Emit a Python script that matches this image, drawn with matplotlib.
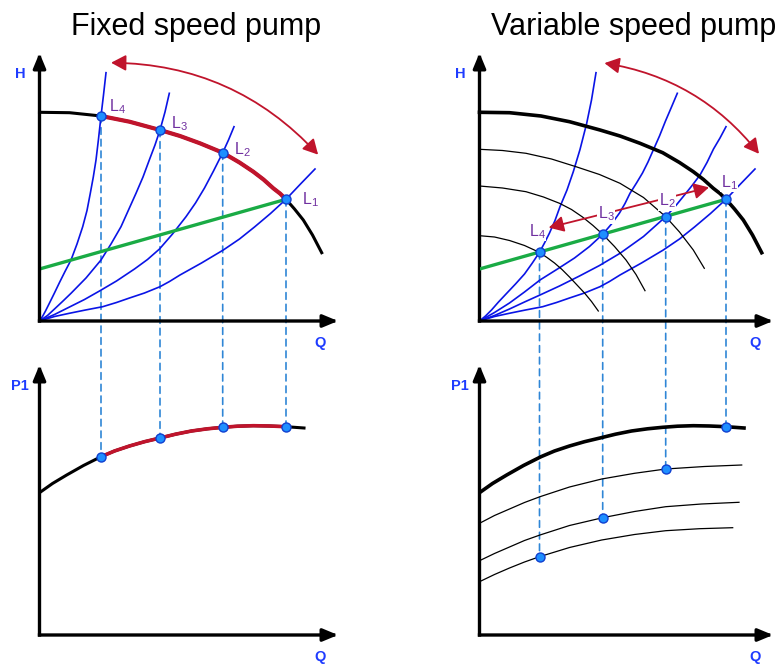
import matplotlib.pyplot as plt
from matplotlib.patches import FancyArrowPatch, ConnectionPatch

plt.rcParams['font.family'] = ['Liberation Sans', 'DejaVu Sans']

# ---- data (arbitrary units: Q flow, H head, P1 power) ----
labels = ['1', '2', '3', '4']

# pump curve at full speed
pump_q = [0, 30, 61.5, 90, 120.5, 140.5, 160.5, 183.2, 200, 213.8, 224, 233.8, 240.5, 246.5,
          255, 263.8, 273, 282.2]
pump_h = [208.7, 208.3, 205, 199.3, 191, 185, 177.7, 168.3, 158.5, 149.3, 141.5, 132.7, 127.5,
          121.7, 112, 101, 86, 68.3]

# power curve at full speed
power_q = [0, 13, 27.2, 44, 61.5, 75, 90, 105, 120.5, 136, 152, 168, 183.2, 198, 213.8, 230,
           246.5, 264.5]
power_p = [142.3, 151.5, 160, 169.5, 178.3, 184, 189, 193.3, 197, 200.8, 204, 206.2, 207.7,
           208.8, 209.3, 209, 208.3, 207]

# control curve (green)
ctrl_q = [0, 246.5]
ctrl_h = [52, 121.7]

# fixed speed: operating points L1..L4
fix_q = [246.5, 183.2, 120.5, 61.5]
fix_h = [121.7, 168.3, 191, 205]
fix_p = [208.3, 207.7, 197, 178.3]

# fixed speed: system curves through L1..L4
fix_sys_q = [
    [0, 15, 29.8, 46, 63.2, 77, 90, 105, 120.5, 130, 140.5, 162, 183.8, 200, 215, 231, 246.5,
     261, 275.5],
    [0, 15, 30, 45, 60, 77, 95, 108, 120, 133, 146.5, 156, 165, 174, 183.2, 189, 194.5],
    [0, 8, 15, 23, 31.5, 46.5, 61.5, 71.5, 81.5, 89, 96.5, 103.5, 109.8, 115.5, 120.5, 125.5,
     129.8],
    [0, 3, 6, 10, 14.8, 20, 25.5, 31.5, 37.5, 43.2, 47.5, 50.8, 53.8, 56.5, 59, 61.5, 64, 66.5],
]
fix_sys_h = [
    [0, 4.5, 7.7, 11, 14.3, 18.5, 23, 28, 34.3, 39.5, 46, 58, 71, 82, 94, 107.5, 121.7, 137,
     152],
    [0, 6.5, 14, 21.5, 30, 40, 52, 61.5, 72, 87, 104.3, 118, 133, 150, 168.3, 181, 194.3],
    [0, 5.5, 12, 19.5, 27.7, 43, 61, 77, 94.3, 111, 127.7, 144, 161, 176, 191, 209, 227.7],
    [0, 4.5, 10, 18, 27.7, 38.5, 49.5, 61, 77, 94.3, 110.5, 127.7, 144, 161, 182, 205, 226,
     248.3],
]

# variable speed: operating points L1..L4 (on the control curve)
var_q = [246.5, 186.2, 123.2, 60]
var_h = [121.7, 104.3, 86.7, 68.7]
var_p = [208.3, 166, 117.3, 78.3]

# variable speed: system curves through L1..L4
var_sys_q = [
    fix_sys_q[0],
    [0, 15, 30, 45, 60.5, 80, 100, 120, 140.5, 164, 186.2, 196, 205, 213, 220.5, 227.5, 234,
     240.5, 246.5],
    [0, 15, 30, 45, 60.5, 78, 95, 110, 123.2, 132, 140, 145.5, 150.5, 157, 163, 168.5, 173.8,
     180, 186, 192, 197.8],
    [0, 6, 12, 19, 27.2, 36, 45, 52.5, 60, 65, 70, 75.5, 80.5, 87.5, 93.8, 100.5, 107.2, 112,
     116.5],
]
var_sys_h = [
    fix_sys_h[0],
    [0, 5.5, 12, 19, 26, 35, 45, 55.5, 67.7, 84.5, 104.3, 115, 126, 136, 146, 158.5, 172, 183,
     194.3],
    [0, 8.5, 18, 29, 41, 52, 63, 74.5, 86.7, 97, 108, 117.5, 127.7, 138, 148, 159, 171, 185, 200,
     214, 227.7],
    [0, 5, 11, 19, 27.7, 37, 47, 57.5, 68.7, 78, 88, 100.5, 114.3, 131, 149.3, 171.5, 197.7, 221,
     248.3],
]

# variable speed: reduced speed pump curves
red_pump_q = [
    [0, 23, 46.5, 72, 96.5, 120, 140.5, 164, 186.2, 200, 213.8, 224.8],
    [0, 23, 46.5, 64, 80, 92, 103, 113.5, 123.2, 135, 146.5, 156.5, 165.5],
    [0, 15, 30, 45, 59.8, 67.5, 75, 82.5, 90, 97.5, 105, 112, 118.8],
]
red_pump_h = [
    [171.7, 170.5, 167.7, 162, 154.3, 146.5, 137.7, 123.5, 104.3, 89, 71, 52.7],
    [135, 133, 129.3, 124, 117.7, 111.5, 104, 95.5, 86.7, 74.5, 61, 46.5, 30.3],
    [85.3, 84, 80.5, 75.5, 68.7, 63.5, 58, 51.5, 44, 36, 28, 19.5, 10],
]

# variable speed: reduced speed power curves
red_power_q = [
    [0, 15, 30, 45, 60.5, 90, 122.2, 155, 186.2, 225, 262.2],
    [0, 15, 30, 45, 60.5, 90, 123.2, 155, 186.2, 222, 259.5],
    [0, 15, 30, 45, 60, 90, 122.2, 155, 186.2, 220, 253.2],
]
red_power_p = [
    [111.7, 119.5, 126, 132.5, 138.3, 148, 156, 161.7, 166, 168.5, 170],
    [74.3, 81.5, 88, 94.5, 100, 109.5, 117.3, 123.5, 128.3, 131, 132.7],
    [53.3, 60.5, 67, 73, 78.3, 87.5, 95, 100.5, 104.3, 106.3, 107.3],
]

# label anchors
fix_lab_q = [262.2, 194.5, 131.5, 69.2]
fix_lab_h = [121.5, 171.5, 197, 214]
var_lab_q = [241.5, 179.5, 118.2, 49.2]
var_lab_h = [138.5, 120, 107, 89.5]

# red arrows
fix_arc_q = [68.8, 280.5]
fix_arc_h = [258.3, 164.3]
var_arc_q = [122.2, 281.2]
var_arc_h = [258.3, 165]
var_line_q = [66.5, 232.2]
var_line_h = [92.7, 134.3]

BLUE = '#0a14e6'
RED = '#c0142c'
GREEN = '#1aab45'
PURPLE = '#7030a0'
LBLUE = '#1f3cff'
DOT_FC = '#1e8fff'
DOT_EC = '#1040d0'
DASH = '#2f86d6'

W, HP = 780, 664
fig = plt.figure(figsize=(7.8, 6.64), dpi=100)


def make_axes(ox, oy, xw, yh, ylab):
    ax = fig.add_axes([ox / W, 1 - oy / HP, xw / W, yh / HP])
    ax.set_xlim(0, xw)
    ax.set_ylim(0, yh)
    ax.axis('off')
    ax.patch.set_visible(False)
    style = '-|>,head_length=0.6,head_width=0.25'
    for tip in [(xw, 0), (0, yh)]:
        ax.annotate('', xy=tip, xytext=(0, 0), annotation_clip=False,
                    arrowprops=dict(arrowstyle=style, lw=2.4, color='k',
                                    shrinkA=0, shrinkB=0, mutation_scale=15,
                                    capstyle='projecting'))
    ax.text(-19.5, yh - 21, ylab, color=LBLUE, fontsize=10.5, fontweight='bold',
            ha='center', va='center', clip_on=False)
    ax.text(xw - 18, -22, 'Q', color=LBLUE, fontsize=10.5, fontweight='bold',
            ha='center', va='center', clip_on=False)
    return ax


ax1 = make_axes(39.5, 321, 298.5, 268, 'H')
ax2 = make_axes(39.5, 635, 298.5, 270, 'P1')
ax3 = make_axes(479.5, 321, 293.5, 268, 'H')
ax4 = make_axes(479.5, 635, 293.5, 270, 'P1')


def dots(ax, q, y):
    ax.plot(q, y, 'o', ms=6.5, mfc=DOT_FC, mec=DOT_EC, mew=1, zorder=6, clip_on=False)


def arc_arrow(ax, q, h, rad):
    ax.add_patch(FancyArrowPatch((q[0], h[0]), (q[1], h[1]),
                                 connectionstyle=f'arc3,rad={rad}',
                                 arrowstyle='<|-|>,head_length=0.6,head_width=0.32',
                                 mutation_scale=15, color=RED, lw=1.3, clip_on=False))


# ---- fixed speed ----
for q, h in zip(fix_sys_q, fix_sys_h):
    ax1.plot(q, h, color=BLUE, lw=1.2, clip_on=False)
ax1.plot(ctrl_q, ctrl_h, color=GREEN, lw=2.4)
ax1.plot(pump_q, pump_h, color='k', lw=2.2, clip_on=False)
i0, i1 = pump_q.index(fix_q[3]), pump_q.index(fix_q[0])
ax1.plot(pump_q[i0:i1 + 1], pump_h[i0:i1 + 1], color=RED, lw=3.0, zorder=4)
dots(ax1, fix_q, fix_h)
arc_arrow(ax1, fix_arc_q, fix_arc_h, -0.22)
for n, q, h in zip(labels, fix_lab_q, fix_lab_h):
    ax1.text(q, h, r'L$_\mathregular{' + n + '}$', color=PURPLE, fontsize=11.5,
             ha='left', va='center', zorder=7)

ax2.plot(power_q, power_p, color='k', lw=2.2)
j0, j1 = power_q.index(fix_q[3]), power_q.index(fix_q[0])
ax2.plot(power_q[j0:j1 + 1], power_p[j0:j1 + 1], color=RED, lw=2.6, zorder=4)
dots(ax2, fix_q, fix_p)

# ---- variable speed ----
for q, h in zip(var_sys_q, var_sys_h):
    ax3.plot(q, h, color=BLUE, lw=1.2, clip_on=False)
for q, h in zip(red_pump_q, red_pump_h):
    ax3.plot(q, h, color='k', lw=0.9)
ax3.plot(ctrl_q, ctrl_h, color=GREEN, lw=2.4, zorder=4)
ax3.plot(pump_q, pump_h, color='k', lw=2.6, clip_on=False)
dots(ax3, var_q, var_h)
arc_arrow(ax3, var_arc_q, var_arc_h, -0.2)
ax3.add_patch(FancyArrowPatch((var_line_q[0], var_line_h[0]), (var_line_q[1], var_line_h[1]),
                              arrowstyle='<|-|>,head_length=0.6,head_width=0.32',
                              mutation_scale=15, color=RED, lw=1.3, zorder=5))
for n, q, h in zip(labels, var_lab_q, var_lab_h):
    ax3.text(q, h, r'L$_\mathregular{' + n + '}$', color=PURPLE, fontsize=11.5,
             ha='left', va='center', zorder=7,
             bbox=dict(fc='white', ec='none', pad=0.5))

ax4.plot(power_q, power_p, color='k', lw=2.6)
for q, p in zip(red_power_q, red_power_p):
    ax4.plot(q, p, color='k', lw=0.9)
dots(ax4, var_q, var_p)

# ---- dashed projections between the two panels ----
for top, bot, qs, hs, ps in [(ax1, ax2, fix_q, fix_h, fix_p), (ax3, ax4, var_q, var_h, var_p)]:
    for q, h, p in zip(qs, hs, ps):
        con = ConnectionPatch(xyA=(q, h), coordsA=top.transData,
                              xyB=(q, p), coordsB=bot.transData,
                              color=DASH, lw=1.2, linestyle=(0, (4, 3)), zorder=-1)
        fig.add_artist(con)

fig.text(196 / W, 1 - 35 / HP, 'Fixed speed pump', fontsize=22, ha='center', va='baseline')
fig.text(634 / W, 1 - 35 / HP, 'Variable speed pump', fontsize=22, ha='center', va='baseline')

fig.savefig('out.png', dpi=100)
